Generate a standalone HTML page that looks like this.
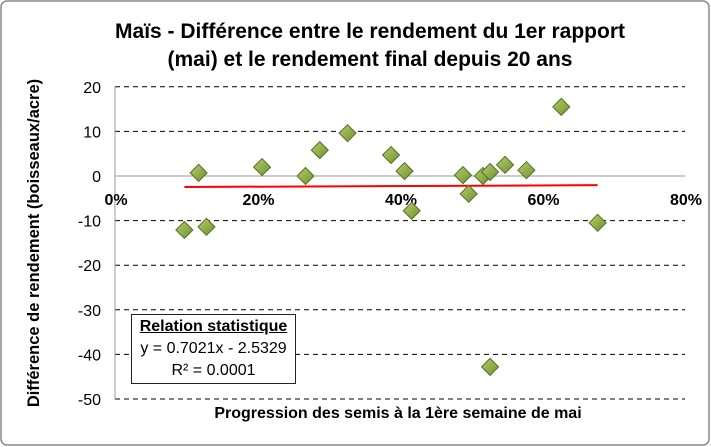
<!DOCTYPE html>
<html><head><meta charset="utf-8"><style>
body{margin:0;background:#fff;font-family:"Liberation Sans",sans-serif}
#wrap{position:relative;width:711px;height:447px;overflow:hidden}
</style></head><body>
<div id="wrap">
<svg id="svg" width="711" height="447" xmlns="http://www.w3.org/2000/svg">
<rect x="1" y="1" width="708" height="444" rx="6" fill="#fff" stroke="#888" stroke-width="1.5"/>
<text x="370" y="38" text-anchor="middle" font-size="21" font-weight="bold">Maïs - Différence entre le rendement du 1er rapport</text>
<text x="370" y="66" text-anchor="middle" font-size="21" font-weight="bold">(mai) et le rendement final depuis 20 ans</text>
<text transform="translate(39,243) rotate(-90)" text-anchor="middle" font-size="16.5" font-weight="bold">Différence de rendement (boisseaux/acre)</text>
<text x="398" y="418" text-anchor="middle" font-size="16" font-weight="bold">Progression des semis à la 1ère semaine de mai</text>
<g id="grid"></g><g id="ticks"></g><g id="marks"></g>
</svg>
<div style="position:absolute;left:131px;top:314px;width:163px;height:68px;border:1.5px solid #222;background:#fff;text-align:center;font-size:16px;line-height:22px">
<div style="font-weight:bold;text-decoration:underline;margin-top:1px">Relation statistique</div>
<div>y = 0.7021x - 2.5329</div>
<div>R² = 0.0001</div>
</div>
</div>
<script>
const xs=[0.096,0.116,0.127,0.205,0.266,0.286,0.325,0.386,0.405,0.415,0.487,0.495,0.515,0.525,0.525,0.546,0.576,0.625,0.676];
const ys=[-12.1,0.7,-11.4,2.0,0,5.8,9.6,4.7,1.1,-7.8,0.2,-4.0,0,0.9,-42.8,2.5,1.3,15.5,-10.5];
const yTicks=[20,10,0,-10,-20,-30,-40,-50];
const xTicks=[0,0.2,0.4,0.6,0.8];
const xTickLabels=["0%","20%","40%","60%","80%"];
const slope=0.7021, intercept=-2.5329;
const NS="http://www.w3.org/2000/svg";
const X=v=>116+v*712.5, Y=v=>176-v*4.46;
function mk(tag,at,parent){const e=document.createElementNS(NS,tag);for(const k in at)e.setAttribute(k,at[k]);document.getElementById(parent).appendChild(e);return e;}
yTicks.forEach(t=>{
 const l=mk('line',{x1:115,x2:685,y1:Y(t),y2:Y(t),stroke:t===0?'#999':'#000','stroke-width':1,'stroke-dasharray':t===0?'':'5,4'},'grid');
 
 
 const tx=mk('text',{x:101,y:Y(t)+6,'text-anchor':'end','font-size':16},'ticks');tx.textContent=t;
 
 
});
const ax=mk('line',{x1:115,x2:115,y1:Y(20),y2:Y(-50),stroke:'#999'},'grid');


xTicks.forEach((t,i)=>{
 const tx=mk('text',{x:X(t),y:205,'text-anchor':'middle','font-size':16,'font-weight':'bold'},'ticks');tx.textContent=xTickLabels[i];
 
 
});
const defs=mk('defs',{},'marks');
defs.innerHTML='<linearGradient id="g" x1="0" y1="0" x2="1" y2="1"><stop offset="0" stop-color="#b5cf6a"/><stop offset="1" stop-color="#6f8f2c"/></linearGradient>';
const x0=Math.min(...xs),x1=Math.max(...xs);
const tl=mk('line',{x1:X(x0),x2:X(x1),y1:Y(slope*x0+intercept),y2:Y(slope*x1+intercept),stroke:'#f00','stroke-width':2},'marks');


xs.forEach((v,i)=>{
 const cx=X(v),cy=Y(ys[i]),r=8.5;
 const p=mk('polygon',{points:`${cx},${cy-r} ${cx+r},${cy} ${cx},${cy+r} ${cx-r},${cy}`,fill:'url(#g)',stroke:'#55702a','stroke-width':1},'marks');
 
 
});
</script>
</body></html>
